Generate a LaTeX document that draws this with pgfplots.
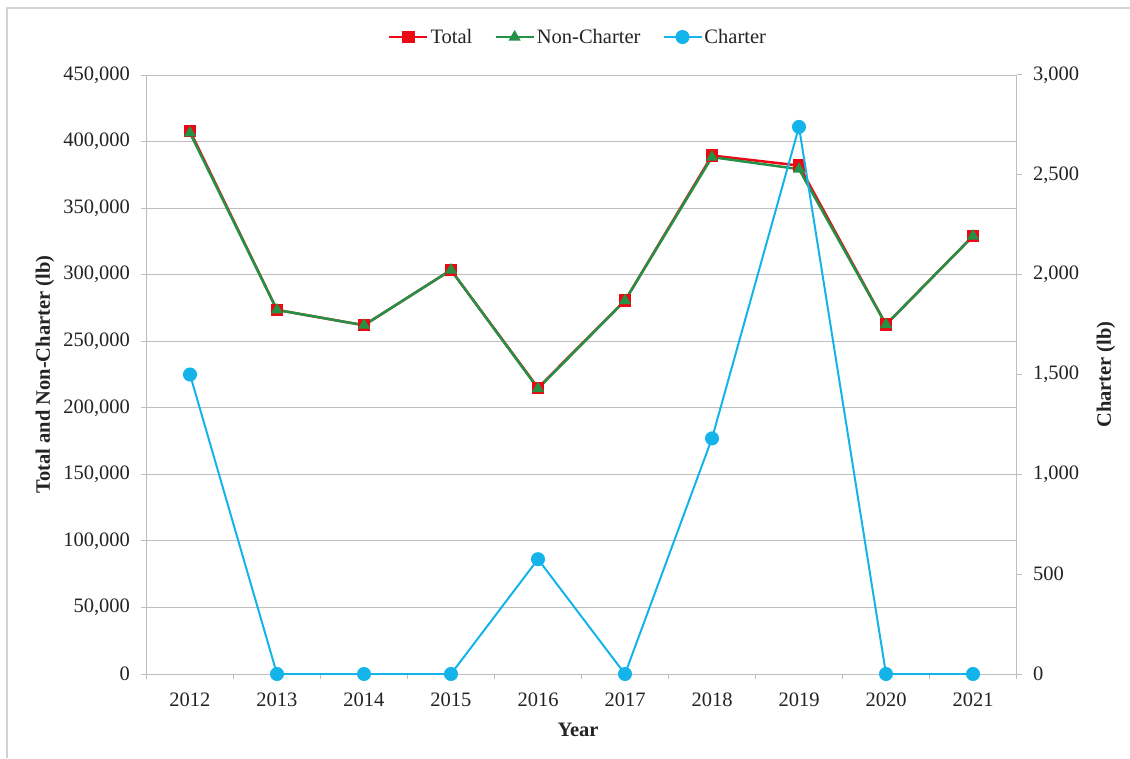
\documentclass[border=0pt]{standalone}
\usepackage{fontspec}
\setmainfont{Liberation Serif}
\usepackage{pgfplots}
\pgfplotsset{compat=1.18}

\definecolor{totred}{RGB}{235,10,20}
\definecolor{ncgreen}{RGB}{35,145,70}
\definecolor{chcyan}{RGB}{20,180,235}
\definecolor{gridgray}{RGB}{190,190,190}
\definecolor{txt}{RGB}{35,35,35}

\newcommand{\bigfont}{\fontsize{20.5}{24}\selectfont}

\pgfplotsset{
  common/.style={
    width=870pt, height=599pt, scale only axis,
    xmin=-0.5, xmax=9.5,
    tick align=outside,
    major tick length=5pt,
    tick style={gridgray, line width=1pt},
    axis line style={gridgray, line width=1pt},
    ticklabel style={font=\bigfont, text=txt},
    label style={font=\bigfont\bfseries, text=txt},
    /pgf/number format/assume math mode=true,
    /pgf/number format/.cd, fixed, 1000 sep={,},
  },
  legline/.style={
    legend image code/.code={
      \draw[##1] (0pt,0pt) -- (38pt,0pt);
      \draw[##1, mark repeat=2, mark phase=2] plot coordinates {(0pt,0pt) (19pt,0pt) (38pt,0pt)};
    }
  },
}

\begin{document}
\begin{tikzpicture}
\useasboundingbox (-146.5pt,-84pt) rectangle (983.5pt,674pt);
\draw[gray!35, line width=2pt] (-139.5pt,-84pt) -- (-139.5pt,666pt) -- (983.5pt,666pt);

\begin{axis}[
  common, legline,
  axis x line*=bottom, axis y line*=left,
  ymin=0, ymax=450000,
  ytick={0,50000,100000,150000,200000,250000,300000,350000,400000,450000},
  scaled y ticks=false,
  ymajorgrids=true,
  grid style={gridgray, line width=1pt},
  xtick={-0.5,0.5,1.5,2.5,3.5,4.5,5.5,6.5,7.5,8.5,9.5},
  xticklabels={},
  extra x ticks={0,1,2,3,4,5,6,7,8,9},
  extra x tick labels={2012,2013,2014,2015,2016,2017,2018,2019,2020,2021},
  extra x tick style={major tick length=0pt, grid=none,
    tick label style={yshift=-15pt}},
  y tick label style={xshift=-8pt},
  xlabel={Year},
  xlabel style={at={(axis description cs:0.496,-0.0935)}, anchor=center},
  ylabel={Total and Non-Charter (lb)},
  ylabel style={at={(axis description cs:-0.1167,0.5)}, anchor=center},
  legend style={at={(axis description cs:0.496,1.0634)}, anchor=center,
    draw=none, fill=none, legend columns=3, font=\bigfont, text=txt,
    /tikz/every even column/.append style={column sep=20pt}},
]
\addplot[totred, line width=2.5pt, mark=square*, mark size=5pt,
  mark options={solid}] coordinates {
  (0,408000) (1,273500) (2,262000) (3,303500) (4,215000)
  (5,280500) (6,389500) (7,382000) (8,262500) (9,329000)
};
\addlegendentry{Total}
\addplot[ncgreen, line width=2.5pt, mark=triangle*, mark size=4.5pt,
  mark options={solid}] coordinates {
  (0,406500) (1,273500) (2,262000) (3,303500) (4,214425)
  (5,280500) (6,388320) (7,379260) (8,262500) (9,329000)
};
\addlegendentry{Non-Charter}
\addlegendimage{chcyan, line width=2pt, mark=*, mark size=6pt}
\addlegendentry{Charter}
\end{axis}

\begin{axis}[
  common,
  axis x line=none, axis y line*=right,
  ymin=0, ymax=3000,
  ytick={0,500,1000,1500,2000,2500,3000},
  y tick label style={xshift=8pt},
  ylabel={Charter (lb)},
  ylabel style={at={(axis description cs:1.1029,0.5)}, anchor=center},
]
\addplot[chcyan, line width=2pt, mark=*, mark size=6pt] coordinates {
  (0,1500) (1,0) (2,0) (3,0) (4,575)
  (5,0) (6,1180) (7,2740) (8,0) (9,0)
};
\end{axis}
\end{tikzpicture}
\end{document}
